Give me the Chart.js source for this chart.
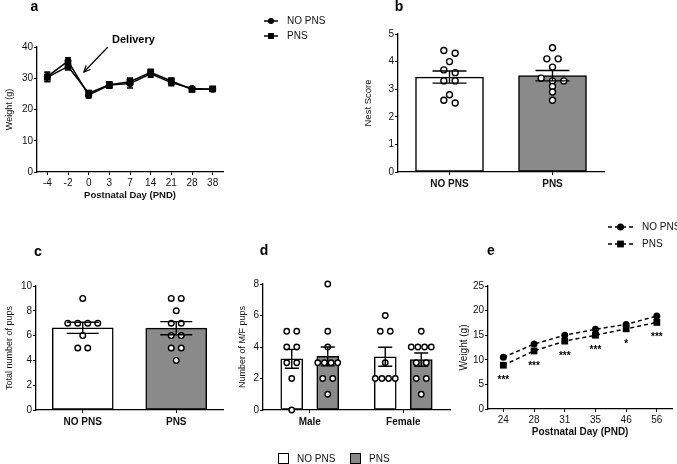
<!DOCTYPE html>
<html>
<head>
<meta charset="utf-8">
<script src="https://cdn.jsdelivr.net/npm/chart.js@4/dist/chart.umd.min.js"></script>
<style>
html,body{margin:0;padding:0;background:#fff;}
#wrap{position:relative;width:677px;height:464px;overflow:hidden;background:#fff;}
#wrap canvas{position:absolute;left:0;top:0;}
</style>
</head>
<body>
<div id="wrap">
<canvas id="chartA" width="677" height="464"></canvas>
<canvas id="chartB" width="677" height="464"></canvas>
<canvas id="chartC" width="677" height="464"></canvas>
<canvas id="chartD" width="677" height="464"></canvas>
<canvas id="chartE" width="677" height="464"></canvas>
</div>
<script>
// ================= DATA =================
const groups = ['NO PNS', 'PNS'];

// (a) dam body weight
const pndMaternal = ['-4', '-2', '0', '3', '7', '14', '21', '28', '38'];
const maternalWeightNoPns = [30.5, 35.5, 24.6, 27.8, 28.3, 31.4, 28.6, 26.7, 26.5];
const maternalWeightPns   = [30.3, 33.8, 25.2, 27.9, 28.9, 31.9, 29.1, 26.4, 26.6];
const maternalSemNoPns    = [1.5, 1.1, 0.9, 1.0, 1.4, 1.1, 1.0, 0.6, 0.5];
const maternalSemPns      = [1.4, 1.2, 0.9, 1.0, 1.2, 1.0, 1.0, 0.6, 0.5];

// (b) nest score
const nestScoreMean = [3.44, 3.49];
const nestScoreSem  = [0.22, 0.19];
const nestScoresNoPns = [4.4, 4.3, 4.0, 3.7, 3.6, 3.3, 3.3, 2.8, 2.6, 2.5];
const nestScoresPns   = [4.5, 4.1, 4.1, 3.8, 3.4, 3.3, 3.3, 3.1, 2.9, 2.6];

// (c) litter size
const litterSizeMean = [6.63, 6.6];
const litterSizeSem  = [0.45, 0.53];
const litterSizesNoPns = [9, 7, 7, 7, 7, 6, 5, 5];
const litterSizesPns   = [9, 9, 8, 7, 7, 6, 6, 5, 5, 4];

// (d) male / female pups
const sexes = ['Male', 'Female'];
const sexCountMeanNoPns = [3.25, 3.38];
const sexCountMeanPns   = [3.4, 3.2];
const sexCountSemNoPns  = [0.6, 0.6];
const sexCountSemPns    = [0.6, 0.42];
const maleCountsNoPns   = [5, 5, 4, 4, 3, 3, 2, 0];
const maleCountsPns     = [8, 5, 4, 3, 3, 3, 3, 2, 2, 1];
const femaleCountsNoPns = [6, 5, 5, 3, 2, 2, 2, 2];
const femaleCountsPns   = [5, 4, 4, 4, 4, 3, 3, 2, 2, 1];

// (e) offspring weight
const pndOffspring = ['24', '28', '31', '35', '46', '56'];
const offspringWeightNoPns = [10.5, 13.2, 15.0, 16.2, 17.2, 18.9];
const offspringWeightPns   = [8.9, 11.8, 13.8, 15.0, 16.3, 17.6];
const significance = ['***', '***', '***', '***', '*', '***'];

// ================= STYLE / HELPERS =================
const FONT = "'Liberation Sans', Arial, Helvetica, sans-serif";
Chart.defaults.font.family = FONT;
Chart.defaults.color = '#111';
const W = 677, H = 464;
const GREY = '#8a8a8a';
const INK = '#000';

// fix the chart area of a full-page canvas
function frame(f) {
  const padLeft = f.yTitleX - f.yTitleSize * 1.2 / 2;
  const padBottom = f.xTitleY ? H - (f.xTitleY + f.xTitleSize * 1.2 / 2) : 0;
  return {
    layout: {padding: {left: padLeft, top: f.t, right: W - f.r, bottom: padBottom}},
    yFit: s => { s.width = f.l - padLeft; },
    xFit: s => { s.height = (H - padBottom) - f.b; }
  };
}
const gridStyle = {offset: false, drawOnChartArea: false, drawTicks: true, tickLength: 3, color: INK, lineWidth: 1};
const borderStyle = {color: INK, width: 1.3};
function yAxis(fr, min, max, step, title, titleSize) {
  return {
    type: 'linear', min: min, max: max,
    afterFit: fr.yFit,
    ticks: {stepSize: step, font: {size: 10}, color: '#111', padding: 1},
    grid: gridStyle, border: borderStyle,
    title: {display: true, text: title, font: {size: titleSize}, color: '#111', padding: 0}
  };
}
function timeAxis(fr, labels, title, titleSize) {
  return {
    type: 'category', labels: labels, offset: true,
    afterFit: fr.xFit,
    ticks: {font: {size: 10}, color: '#111', padding: 2, maxRotation: 0, autoSkip: false},
    grid: gridStyle, border: borderStyle,
    title: {display: true, text: title, font: {size: titleSize, weight: 'bold'}, color: '#111', padding: 0}
  };
}
// group axis: linear so that bars and replicate dots share one scale
function groupAxis(fr, labels) {
  return {
    type: 'linear', min: -0.5, max: labels.length - 0.5, offset: false,
    afterFit: fr.xFit,
    afterBuildTicks: s => { s.ticks = labels.map((_, i) => ({value: i})); },
    ticks: {callback: v => labels[v], font: {size: 10, weight: 'bold'}, color: '#111', padding: 3, maxRotation: 0, autoSkip: false},
    grid: gridStyle, border: borderStyle,
    title: {display: false}
  };
}

// arrange replicate dots side by side when values coincide
function swarm(values, center, spacing, maxWidth, tol) {
  const sorted = values.slice().sort((a, b) => b - a);
  const rows = [];
  sorted.forEach(v => {
    const last = rows[rows.length - 1];
    if (last && Math.abs(last[0] - v) <= tol) last.push(v); else rows.push([v]);
  });
  const pts = [];
  rows.forEach(r => {
    const n = r.length;
    const sp = n > 1 ? Math.min(spacing, maxWidth / (n - 1)) : 0;
    r.forEach((v, k) => pts.push({x: center + (k - (n - 1) / 2) * sp, y: v}));
  });
  return pts;
}
function dotSet(points, r) {
  return {type: 'scatter', data: points, showLine: false,
    pointRadius: r, pointHoverRadius: r, pointBorderWidth: 1.4,
    pointBackgroundColor: '#fff', pointBorderColor: INK, clip: false, order: 1};
}
function barSet(means, xs, sem, color, thickness, cap) {
  return {type: 'bar', data: means.map((m, i) => ({x: xs[i], y: m})),
    errorBars: {sem: sem, cap: cap}, backgroundColor: color, borderColor: INK, borderWidth: 1.5,
    borderSkipped: false, grouped: false, barThickness: thickness, order: 2};
}

const errorBarPlugin = {
  id: 'errorBars',
  afterDatasetsDraw(chart) {
    const ctx = chart.ctx;
    chart.data.datasets.forEach((ds, di) => {
      if (!ds.errorBars) return;
      const meta = chart.getDatasetMeta(di);
      const ys = chart.scales[meta.yAxisID];
      const eb = ds.errorBars;
      ctx.save();
      ctx.strokeStyle = INK; ctx.lineWidth = 1.4;
      meta.data.forEach((el, i) => {
        const v = meta.controller.getParsed(i).y;
        if (v == null || isNaN(v)) return;
        const x = el.x;
        const yh = ys.getPixelForValue(v + eb.sem[i]);
        const yl = ys.getPixelForValue(v - eb.sem[i]);
        ctx.beginPath();
        ctx.moveTo(x, yl); ctx.lineTo(x, yh);
        ctx.moveTo(x - eb.cap, yh); ctx.lineTo(x + eb.cap, yh);
        ctx.moveTo(x - eb.cap, yl); ctx.lineTo(x + eb.cap, yl);
        ctx.stroke();
      });
      ctx.restore();
    });
  }
};

function letter(ctx, t, x, y) {
  ctx.save();
  ctx.font = 'bold 14px ' + FONT; ctx.fillStyle = INK;
  ctx.textAlign = 'center'; ctx.textBaseline = 'middle';
  ctx.fillText(t, x, y);
  ctx.restore();
}
function marker(ctx, style, x, y, r) {
  ctx.beginPath();
  if (style === 'rect') { const s = r * Math.SQRT1_2; ctx.rect(x - s, y - s, 2 * s, 2 * s); }
  else ctx.arc(x, y, r, 0, Math.PI * 2);
  ctx.fill();
}
function lineLegend(ctx, items, x1, x2, tx, dashed, rC, rR) {
  ctx.save();
  ctx.font = '10px ' + FONT; ctx.textBaseline = 'middle'; ctx.textAlign = 'left';
  items.forEach(it => {
    ctx.strokeStyle = INK; ctx.fillStyle = INK; ctx.lineWidth = 1.5;
    ctx.setLineDash(dashed ? [4, 3] : []);
    ctx.beginPath(); ctx.moveTo(x1, it.y); ctx.lineTo(x2, it.y); ctx.stroke();
    ctx.setLineDash([]);
    marker(ctx, it.style, (x1 + x2) / 2, it.y, it.style === 'rect' ? rR : rC);
    ctx.fillStyle = '#111';
    ctx.fillText(it.text, tx, it.y + 0.5);
  });
  ctx.restore();
}
const baseOpts = (fr) => ({
  responsive: false, animation: false, devicePixelRatio: 1,
  layout: fr.layout,
  plugins: {legend: {display: false}, tooltip: {enabled: false}},
  events: []
});

// ================= (a) =================
const frA = frame({l: 37, t: 47, r: 223, b: 172, yTitleX: 10, yTitleSize: 9, xTitleY: 195, xTitleSize: 9.5});
new Chart('chartA', {
  type: 'line',
  data: {labels: pndMaternal, datasets: [
    {label: groups[0], data: maternalWeightNoPns, errorBars: {sem: maternalSemNoPns, cap: 3},
     borderColor: INK, borderWidth: 1.5, pointStyle: 'circle', pointRadius: 3.5,
     pointBackgroundColor: INK, pointBorderColor: INK, pointBorderWidth: 0, tension: 0, clip: false},
    {label: groups[1], data: maternalWeightPns, errorBars: {sem: maternalSemPns, cap: 3},
     borderColor: INK, borderWidth: 1.5, pointStyle: 'rect', pointRadius: 4.8,
     pointBackgroundColor: INK, pointBorderColor: INK, pointBorderWidth: 0, tension: 0, clip: false}
  ]},
  options: Object.assign(baseOpts(frA), {
    scales: {x: timeAxis(frA, pndMaternal, 'Postnatal Day (PND)', 9.5),
             y: yAxis(frA, 0, 40, 10, 'Weight (g)', 9)}
  }),
  plugins: [errorBarPlugin, {id: 'decorA', afterDraw(chart) {
    const ctx = chart.ctx, xs = chart.scales.x, ys = chart.scales.y;
    letter(ctx, 'a', 34.5, 7);
    // "Delivery" annotation placed through the scales
    const tipX = xs.getPixelForValue(1.77), tipY = ys.getPixelForValue(32);
    const tailX = xs.getPixelForValue(2.93), tailY = ys.getPixelForValue(40);
    ctx.save();
    ctx.strokeStyle = INK; ctx.lineWidth = 1.2;
    ctx.beginPath(); ctx.moveTo(tailX, tailY); ctx.lineTo(tipX, tipY); ctx.stroke();
    const ang = Math.atan2(tipY - tailY, tipX - tailX), hl = 7;
    ctx.beginPath();
    ctx.moveTo(tipX - hl * Math.cos(ang - 0.45), tipY - hl * Math.sin(ang - 0.45));
    ctx.lineTo(tipX, tipY);
    ctx.lineTo(tipX - hl * Math.cos(ang + 0.45), tipY - hl * Math.sin(ang + 0.45));
    ctx.stroke();
    ctx.font = 'bold 11px ' + FONT; ctx.fillStyle = INK; ctx.textBaseline = 'middle';
    ctx.fillText('Delivery', xs.getPixelForValue(3.13), ys.getPixelForValue(42.3));
    ctx.restore();
    lineLegend(ctx, [{text: groups[0], style: 'circle', y: 21}, {text: groups[1], style: 'rect', y: 36}],
               264, 278, 287, false, 3, 4.2);
  }}]
});

// ================= (b) =================
const groupIdx = groups.map((_, i) => i);
const frB = frame({l: 398, t: 34, r: 604, b: 172, yTitleX: 368, yTitleSize: 9.5});
new Chart('chartB', {
  type: 'bar',
  data: {datasets: [
    barSet(nestScoreMean, groupIdx, nestScoreSem, ['#fff', GREY], 68, 17),
    dotSet(swarm(nestScoresNoPns, 0, 0.11, 1, 0.15), 3),
    dotSet(swarm(nestScoresPns, 1, 0.11, 1, 0.15), 3)
  ]},
  options: Object.assign(baseOpts(frB), {
    scales: {x: groupAxis(frB, groups), y: yAxis(frB, 0, 5, 1, 'Nest Score', 9.5)}
  }),
  plugins: [errorBarPlugin, {id: 'decorB', afterDraw(chart) { letter(chart.ctx, 'b', 399, 7); }}]
});

// ================= (c) =================
const frC = frame({l: 36, t: 286, r: 223, b: 410, yTitleX: 10, yTitleSize: 9});
new Chart('chartC', {
  type: 'bar',
  data: {datasets: [
    barSet(litterSizeMean, groupIdx, litterSizeSem, ['#fff', GREY], 61, 16),
    dotSet(swarm(litterSizesNoPns, 0, 0.107, 1, 0.01), 2.8),
    dotSet(swarm(litterSizesPns, 1, 0.107, 1, 0.01), 2.8)
  ]},
  options: Object.assign(baseOpts(frC), {
    scales: {x: groupAxis(frC, groups), y: yAxis(frC, 0, 10, 2, 'Total number of pups', 9)}
  }),
  plugins: [errorBarPlugin, {id: 'decorC', afterDraw(chart) { letter(chart.ctx, 'c', 38, 252); }}]
});

// ================= (d) =================
const GROUP_OFF_D = 0.1925;   // half distance between paired bars, in category units
const sexIdx = sexes.map((_, i) => i);
const frD = frame({l: 263, t: 284, r: 450, b: 410, yTitleX: 243, yTitleSize: 9});
new Chart('chartD', {
  type: 'bar',
  data: {datasets: [
    barSet(sexCountMeanNoPns, sexIdx.map(i => i - GROUP_OFF_D), sexCountSemNoPns, '#fff', 22, 7),
    barSet(sexCountMeanPns, sexIdx.map(i => i + GROUP_OFF_D), sexCountSemPns, GREY, 22, 7),
    dotSet(swarm(maleCountsNoPns, 0 - GROUP_OFF_D, 0.107, 0.214, 0.01), 2.7),
    dotSet(swarm(maleCountsPns, 0 + GROUP_OFF_D, 0.107, 0.214, 0.01), 2.7),
    dotSet(swarm(femaleCountsNoPns, 1 - GROUP_OFF_D, 0.107, 0.214, 0.01), 2.7),
    dotSet(swarm(femaleCountsPns, 1 + GROUP_OFF_D, 0.107, 0.214, 0.01), 2.7)
  ]},
  options: Object.assign(baseOpts(frD), {
    scales: {x: groupAxis(frD, sexes), y: yAxis(frD, 0, 8, 2, 'Number of M/F pups', 9)}
  }),
  plugins: [errorBarPlugin, {id: 'decorD', afterDraw(chart) {
    const ctx = chart.ctx;
    letter(ctx, 'd', 264, 251);
    // shared bar legend
    ctx.save();
    ctx.font = '10px ' + FONT; ctx.textBaseline = 'middle'; ctx.textAlign = 'left';
    [[groups[0], '#fff', 278.5, 297], [groups[1], GREY, 350.5, 369]].forEach(([t, c, bx, tx]) => {
      ctx.fillStyle = c; ctx.strokeStyle = INK; ctx.lineWidth = 1;
      ctx.fillRect(bx, 453.5, 10, 10); ctx.strokeRect(bx, 453.5, 10, 10);
      ctx.fillStyle = '#111'; ctx.fillText(t, tx, 459);
    });
    ctx.restore();
  }}]
});

// ================= (e) =================
const frE = frame({l: 488, t: 286, r: 674, b: 409, yTitleX: 464, yTitleSize: 10, xTitleY: 432, xTitleSize: 10});
new Chart('chartE', {
  type: 'line',
  data: {labels: pndOffspring, datasets: [
    {label: groups[0], data: offspringWeightNoPns, borderColor: INK, borderWidth: 1.5, borderDash: [4, 3],
     pointStyle: 'circle', pointRadius: 3.5, pointBackgroundColor: INK, pointBorderColor: INK, pointBorderWidth: 0, tension: 0, clip: false},
    {label: groups[1], data: offspringWeightPns, borderColor: INK, borderWidth: 1.5, borderDash: [4, 3],
     pointStyle: 'rect', pointRadius: 4.8, pointBackgroundColor: INK, pointBorderColor: INK, pointBorderWidth: 0, tension: 0, clip: false}
  ]},
  options: Object.assign(baseOpts(frE), {
    scales: {x: timeAxis(frE, pndOffspring, 'Postnatal Day (PND)', 10),
             y: yAxis(frE, 0, 25, 5, 'Weight (g)', 10)}
  }),
  plugins: [{id: 'decorE', afterDraw(chart) {
    const ctx = chart.ctx;
    letter(ctx, 'e', 491, 251);
    const meta = chart.getDatasetMeta(1);
    ctx.save();
    ctx.font = 'bold 10px ' + FONT; ctx.fillStyle = INK; ctx.textAlign = 'center'; ctx.textBaseline = 'middle';
    meta.data.forEach((pt, i) => ctx.fillText(significance[i], pt.x, pt.y + 15));
    ctx.restore();
    lineLegend(ctx, [{text: groups[0], style: 'circle', y: 227}, {text: groups[1], style: 'rect', y: 244}],
               608, 633, 642, true, 3.5, 4.8);
  }}]
});
</script>
</body>
</html>
